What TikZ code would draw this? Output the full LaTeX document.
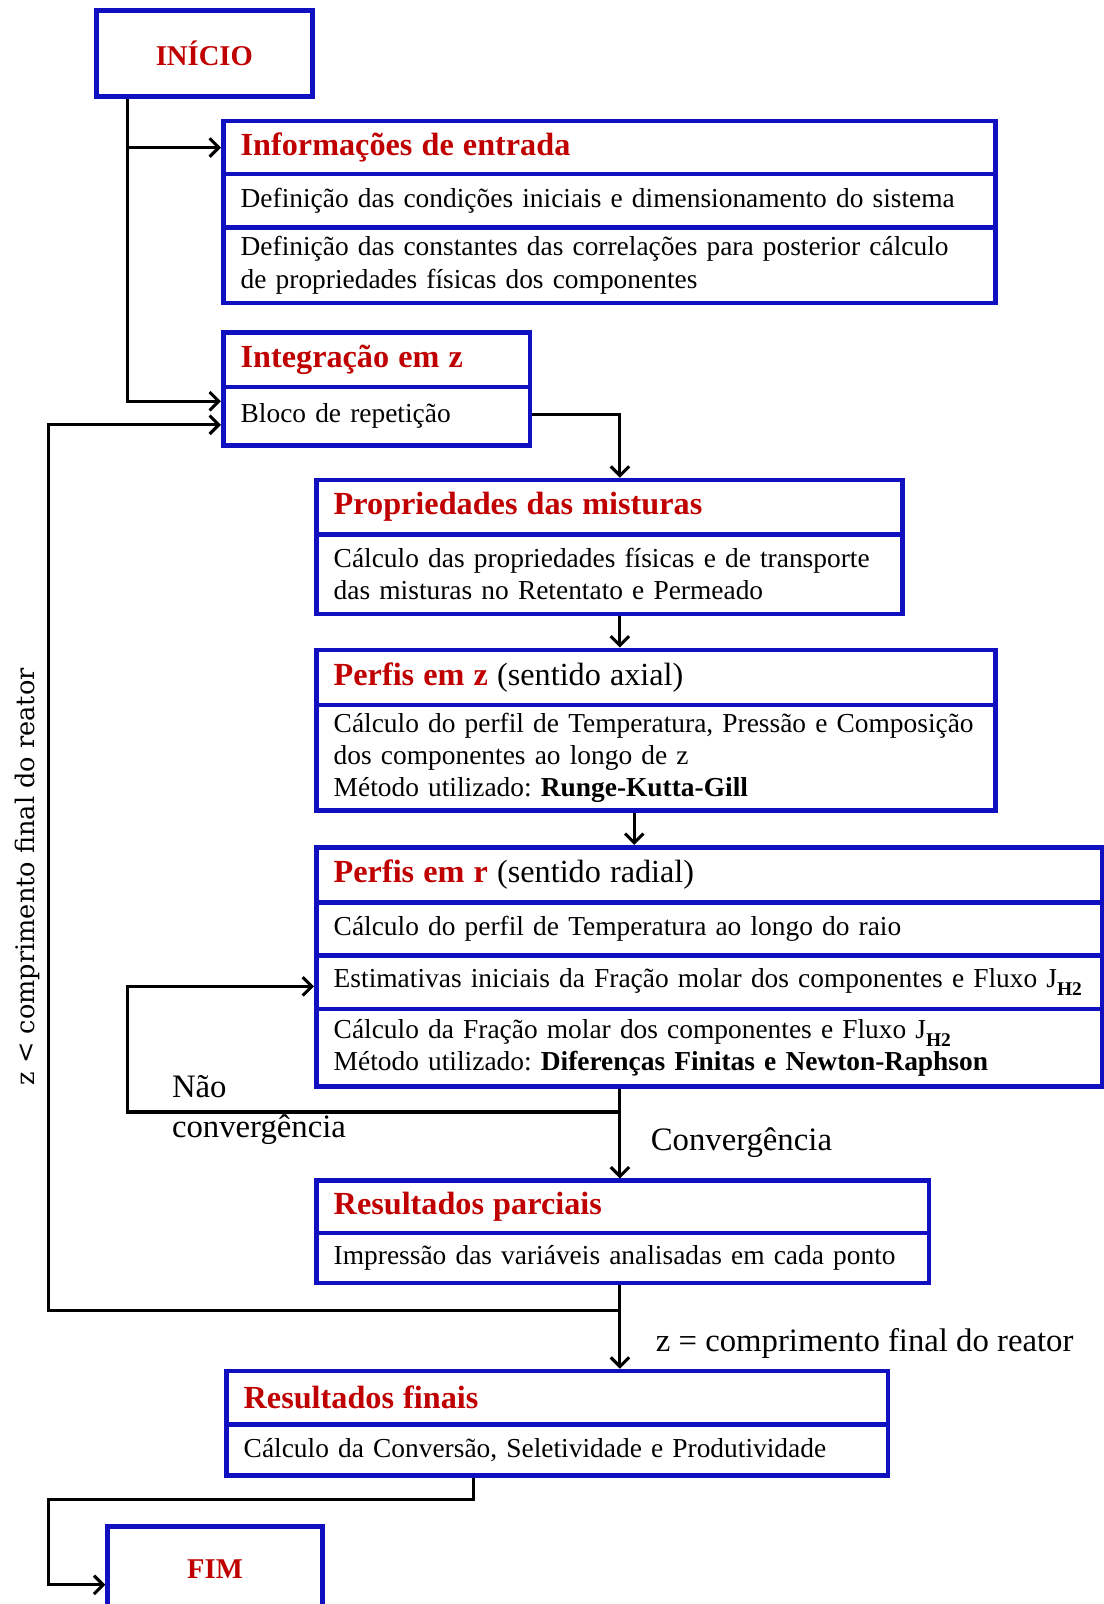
\documentclass[tikz,border=0pt]{standalone}
\usepackage{fontspec}
\setmainfont{Liberation Serif}
\newfontfamily\bodyfam{Liberation Serif}[WordSpace=0.75]
\newfontfamily\vfont{DejaVu Serif}
\usetikzlibrary{arrows.meta,calc}
\definecolor{boxblue}{RGB}{16,16,192}
\definecolor{ttlred}{RGB}{192,0,0}
\newcommand\myBody{\bodyfam\fontsize{26.8}{31.5}\selectfont}
\newcommand\myTitle{\fontsize{31.5}{34}\selectfont\bfseries}
\newcommand\myLbl{\fontsize{32}{34}\selectfont}
\newcommand\ttl[1]{{\myTitle\color{ttlred}#1}}
\newcommand\subHH{\raisebox{-0.3em}{\fontsize{19}{19}\selectfont\bfseries H2}}
\frenchspacing
\begin{document}
\frenchspacing
\begin{tikzpicture}[x=1pt,y=-1pt,
  row/.style={draw=boxblue, line width=4.5pt, anchor=north west, align=left,
    inner xsep=17pt, inner ysep=0pt, font=\myBody},
  rw/.style 2 args={minimum width=#1, text width=#2},
  endbox/.style={draw=boxblue, line width=4.5pt, anchor=north west,
    font=\fontsize{28}{30}\selectfont\bfseries, text=ttlred},
  arr/.style={draw=black, line width=3pt, -{Straight Barb[length=9pt,width=18pt]}},
  conn/.style={draw=black, line width=3pt},
  lbl/.style={inner sep=0pt, anchor=base west, font=\myLbl}]
\clip (0,0) rectangle (1079,1568);
\fill[white] (0,0) rectangle (1079,1568);

% coordinates for vertical connector lines
\coordinate (ax) at (606,0);
\coordinate (bx) at (620,0);
\coordinate (fx) at (463,0);
\coordinate (sx) at (125,0);
\coordinate (nc) at (125,1087);
\coordinate (lp) at (47,1281);
\coordinate (ff) at (47,1466);

% INICIO
\node[endbox, minimum width=211, minimum height=84] (start) at (92,8) {INÍCIO};

% Informacoes de entrada
\node[row, rw={755}{721}, minimum height=52] (ie1) at (216,116) {\ttl{Informações de entrada}};
\node[row, rw={755}{721}, minimum height=52] (ie2) at (216,168) {\mbox{Definição das condições iniciais e dimensionamento do sistema}};
\node[row, rw={755}{721}, minimum height=74] (ie3) at (216,220) {\mbox{Definição das constantes das correlações para posterior cálculo}\\de propriedades físicas dos componentes};

% Integracao em z
\node[row, rw={300}{266}, minimum height=53] (iz1) at (216,323) {\ttl{Integração em z}};
\node[row, rw={300}{266}, minimum height=57] (iz2) at (216,376) {Bloco de repetição};

% Propriedades das misturas
\node[row, rw={573}{539}, minimum height=53] (pm1) at (307,467) {\ttl{Propriedades das misturas}};
\node[row, rw={573}{539}, minimum height=78] (pm2) at (307,520) {\mbox{Cálculo das propriedades físicas e de transporte}\\das misturas no Retentato e Permeado};

% Perfis em z
\node[row, rw={664}{630}, minimum height=54] (pz1) at (307,633) {\ttl{Perfis em z} {\rmfamily\fontsize{31.5}{34}\selectfont(sentido axial)}};
\node[row, rw={664}{630}, minimum height=103] (pz2) at (307,687) {\mbox{Cálculo do perfil de Temperatura, Pressão e Composição}\\dos componentes ao longo de z\\Método utilizado: \textbf{Runge-Kutta-Gill}};

% Perfis em r
\node[row, rw={768}{734}, minimum height=54] (pr1) at (307,826) {\ttl{Perfis em r} {\rmfamily\fontsize{31.5}{34}\selectfont(sentido radial)}};
\node[row, rw={768}{734}, minimum height=52] (pr2) at (307,880) {Cálculo do perfil de Temperatura ao longo do raio};
\node[row, rw={768}{734}, minimum height=52] (pr3) at (307,932) {\mbox{Estimativas iniciais da Fração molar dos componentes e Fluxo J\subHH}};
\node[row, rw={768}{734}, minimum height=76] (pr4) at (307,984) {\mbox{Cálculo da Fração molar dos componentes e Fluxo J\subHH}\\\mbox{Método utilizado: \textbf{Diferenças Finitas e Newton-Raphson}}};

% Resultados parciais
\node[row, rw={599}{565}, minimum height=51] (pp1) at (307,1152) {\ttl{Resultados parciais}};
\node[row, rw={599}{565}, minimum height=49] (pp2) at (307,1203) {Impressão das variáveis analisadas em cada ponto};

% Resultados finais
\node[row, rw={647}{613}, minimum height=52] (pf1) at (219,1338) {\ttl{Resultados finais}};
\node[row, rw={647}{613}, minimum height=50] (pf2) at (219,1390) {Cálculo da Conversão, Seletividade e Produtividade};

% FIM
\node[endbox, minimum width=210, minimum height=84] (fim) at (103,1490) {FIM};

% connectors
\draw[arr] (start.south -| sx) |- (ie1.west);
\draw[arr] (start.south -| sx) |- ([yshift=14.5pt]iz2.west);
\draw[arr] ([yshift=2pt]iz2.east) -| (pm1.north -| ax);
\draw[arr] (pm2.south -| ax) -- (pz1.north -| ax);
\draw[arr] (pz2.south -| bx) -- (pr1.north -| bx);
\draw[arr] (pr4.south -| ax) -- (pp1.north -| ax);
\draw[arr] (pr4.south -| ax) |- (nc) |- ([yshift=-4pt]pr3.west);
\draw[arr] (pp2.south -| ax) -- (pf1.north -| ax);
\draw[arr] (pp2.south -| ax) |- (lp) |- ([yshift=-8.5pt]iz2.west);
\draw[arr] (pf2.south -| fx) |- (ff) |- ([yshift=-15pt]fim.west);

% labels
\node[lbl] (nao) at (168,1073) {Não};
\node[lbl] (naoc) at (168,1112) {convergência};
\node[lbl] (conv) at (636,1125) {Convergência};
\node[lbl] (zeq) at (641,1321) {z = comprimento final do reator};
\node[rotate=90, inner sep=0pt, font=\vfont\fontsize{25}{25}\selectfont] (vlab) at (27,857) {z < comprimento final do reator};
\end{tikzpicture}
\end{document}
